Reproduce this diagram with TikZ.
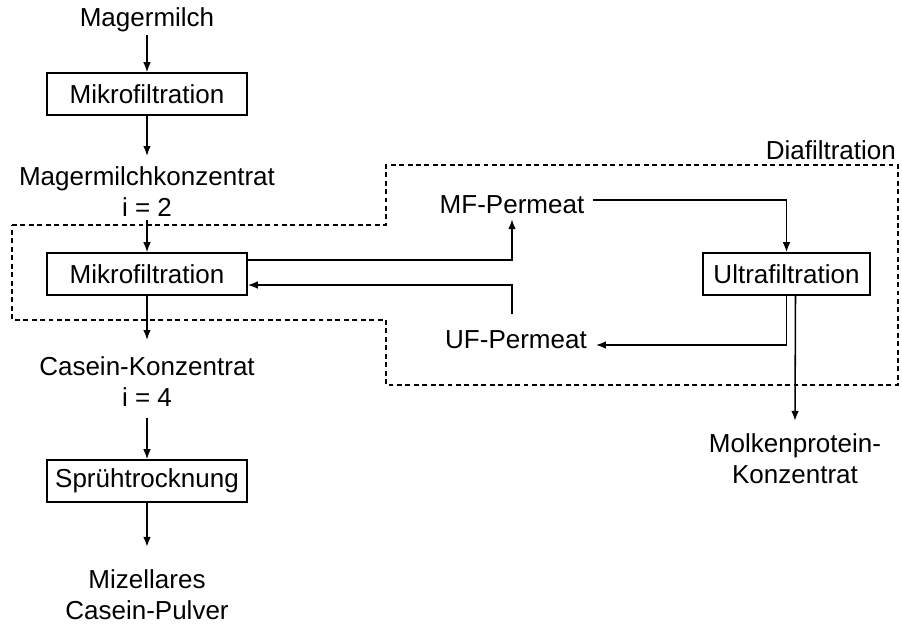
\documentclass[tikz,border=0pt]{standalone}
\usepackage{fontspec}
\setmainfont{Liberation Sans}
\usetikzlibrary{arrows.meta}

\tikzset{
  box/.style={draw, line width=1.1pt, minimum width=5cm, minimum height=1.05cm, inner sep=0pt},
  lbl/.style={align=center, inner sep=2pt},
  flow/.style={-{Latex[length=2.5mm,width=1.9mm]}, line width=1.1pt},
  grenze/.style={line width=0.9pt, dash pattern=on 3.5pt off 2.5pt}
}

\begin{document}
\begin{tikzpicture}[x=0.025cm,y=-0.025cm, font=\fontsize{18.5}{22}\selectfont]
\useasboundingbox (0,0) rectangle (902,631);

% linke Linie
\node[lbl] (milch) at (147,20) {Magermilch};
\node[box] (mf1) at (147,94) {Mikrofiltration};
\node[lbl] (mkonz) at (147,192) {Magermilchkonzentrat\\i = 2};
\node[box] (mf2) at (147,274) {Mikrofiltration};
\node[lbl] (ckonz) at (147,382) {Casein-Konzentrat\\i = 4};
\node[box] (spray) at (147,481) {Sprühtrocknung};
\node[lbl] (pulver) at (147,595) {Mizellares\\Casein-Pulver};

% rechte Seite
\node[lbl] (mfperm) at (512,205) {MF-Permeat};
\node[lbl] (ufperm) at (516,340) {UF-Permeat};
\node[box, minimum width=4.18cm] (uf) at (786.5,274) {Ultrafiltration};
\node[lbl] (molke) at (795,459) {Molkenprotein-\\Konzentrat};
\node[lbl, anchor=east] (dia) at (899,150) {Diafiltration};
\coordinate (ret) at (512,314);

% Diafiltration Grenze
\draw[grenze] (12,225) -- (386,225) -- (386,165) -- (898,165) -- (898,385)
  -- (386,385) -- (386,320) -- (12,320) -- cycle;

\draw[flow] (milch.south) -- (mf1.north);
\draw[flow] (mf1.south) -- ([yshift=0.2cm]mkonz.north);
\draw[flow] (mkonz.south) -- (mf2.north);
\draw[flow] (mf2.south) -- ([yshift=0.35cm]ckonz.north);
\draw[flow] ([yshift=-0.2cm]ckonz.south) -- (spray.north);
\draw[flow] (spray.south) -- ([yshift=0.5cm]pulver.north);

\draw[flow] ([yshift=0.35cm]mf2.east) -| ([yshift=-0.05cm]mfperm.south);
\draw[flow] ([xshift=0.15cm,yshift=0.125cm]mfperm.east) -| (uf.north);
\draw[flow] (ret) |- ([yshift=-0.275cm]mf2.east);
\draw[flow] (uf.south) |- ([xshift=0.15cm,yshift=-0.125cm]ufperm.east);
\draw[flow] ([xshift=0.225cm]uf.south) -- ([yshift=0.25cm]molke.north);
\end{tikzpicture}
\end{document}
